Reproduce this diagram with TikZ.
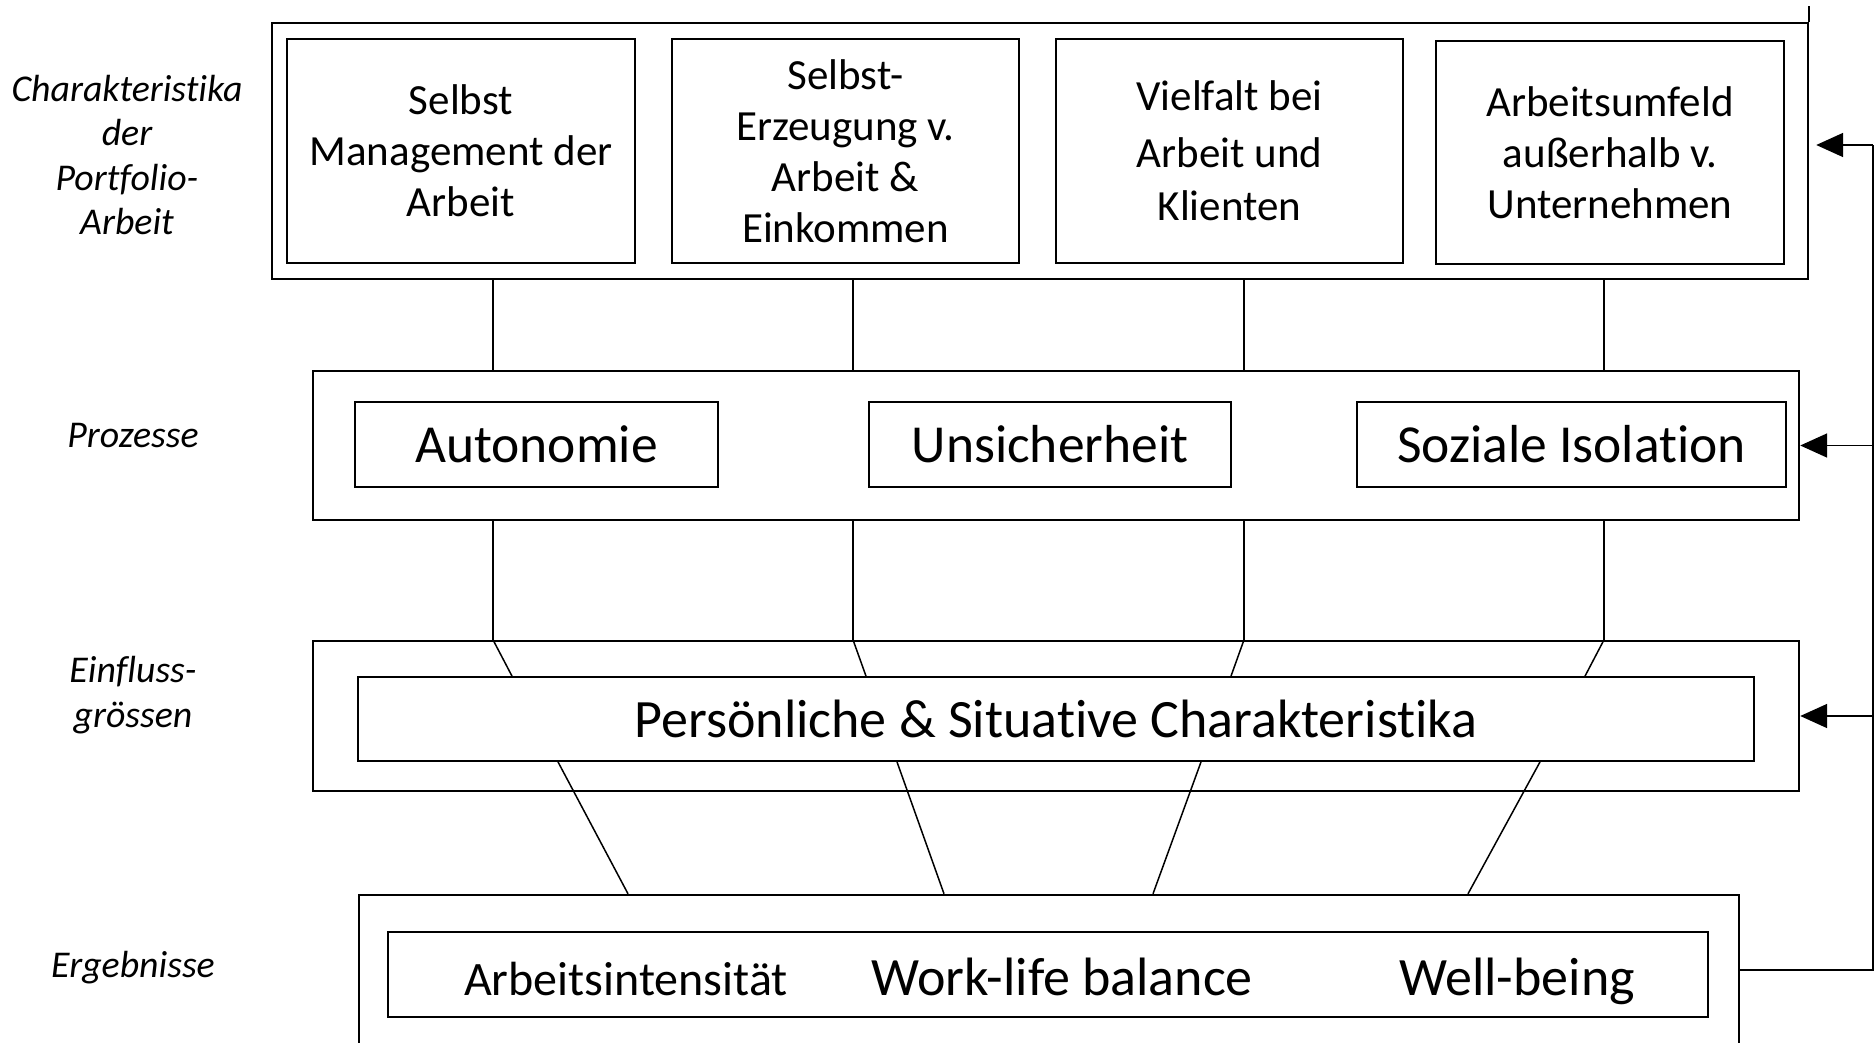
\documentclass[tikz,border=0pt]{standalone}
\usepackage{fontspec}
\setmainfont[Ligatures={NoCommon}]{Carlito}
\usetikzlibrary{arrows.meta,calc}
\begin{document}
\begin{tikzpicture}[x=1pt,y=-1pt,
  outer/.style={draw,line width=2.4pt,rectangle,inner sep=0pt},
  inbox/.style={draw,line width=1.8pt,rectangle,inner sep=0pt,align=center},
  conn/.style={line width=1.5pt},
  lbl/.style={font=\fontsize{37.8}{44.5}\selectfont\itshape,align=center,inner sep=0pt},
  topfont/.style={font=\fontsize{43}{51}\selectfont},
  procfont/.style={font=\fontsize{53.5}{60}\selectfont},
  resfont/.style={font=\fontsize{54}{60}\selectfont,anchor=base},
  fb/.style={line width=1.8pt},
  tip/.style={-{Triangle[length=27pt,width=24pt]}}]
\path[use as bounding box,clip] (0,0) rectangle (1876,1043);

% left labels
\node[lbl] (l1) at (127,155) {Charakteristika\\der\\Portfolio-\\Arbeit};
\node[lbl] (l2) at (133,436) {Prozesse};
\node[lbl] (l3) at (133,695) {Einfluss-\\grössen};
\node[lbl] (l4) at (133,968) {Ergebnisse};

% top level
\node[outer,minimum width=1536pt,minimum height=256pt] (top) at (1040,151) {};
\node[inbox,topfont,minimum width=348pt,minimum height=224pt] (t1) at (461,151) {Selbst\\Management der\\Arbeit};
\node[inbox,topfont,minimum width=347pt,minimum height=224pt] (t2) at (845.5,151) {Selbst-\\Erzeugung v.\\Arbeit \&\\Einkommen};
\node[inbox,topfont,minimum width=347pt,minimum height=224pt] (t3) at (1229.5,151) {Vielfalt bei\\[6pt]Arbeit und\\[2pt]Klienten};
\node[inbox,topfont,minimum width=348pt,minimum height=223pt] (t4) at (1610,152.5) {Arbeitsumfeld\\außerhalb v.\\Unternehmen};
\draw[line width=2pt] (top.north east) -- ++(0,-16);

% processes
\node[outer,minimum width=1486pt,minimum height=149pt] (proc) at (1056,445.5) {};
\node[inbox,procfont,minimum width=363pt,minimum height=85pt] (p1) at (536.5,444.5) {Autonomie};
\node[inbox,procfont,minimum width=362pt,minimum height=85pt] (p2) at (1050,444.5) {Unsicherheit};
\node[inbox,procfont,minimum width=429pt,minimum height=85pt] (p3) at (1571.5,444.5) {Soziale Isolation};

% influences
\node[outer,minimum width=1486pt,minimum height=150pt] (einf) at (1056,716) {};
\node[inbox,font=\fontsize{54}{60}\selectfont,minimum width=1396pt,minimum height=84pt] (pers) at (1056,719) {Persönliche \& Situative Charakteristika};

% results
\node[outer,minimum width=1380pt,minimum height=165pt] (erg) at (1049,977.5) {};
\node[inbox,minimum width=1320pt,minimum height=85pt] (ergi) at (1048,974.5) {};
\node[resfont,font=\fontsize{48}{56}\selectfont] (r1) at (626,995) {Arbeitsintensität};
\node[resfont] (r2) at (1062,995) {Work-life balance};
\node[resfont] (r3) at (1517,995) {Well-being};

% connectors
\coordinate (c1) at (493,0);
\coordinate (c2) at (853,0);
\coordinate (c3) at (1244,0);
\coordinate (c4) at (1604,0);
\foreach \c in {c1,c2,c3,c4}{
  \draw[conn] (top.south -| \c) -- (proc.north -| \c);
  \draw[conn] (proc.south -| \c) -- (einf.north -| \c);
}
\draw[conn] (einf.north -| c1) -- ($(pers.north)+(-544,0)$);
\draw[conn] (einf.north -| c2) -- ($(pers.north)+(-190,0)$);
\draw[conn] (einf.north -| c3) -- ($(pers.north)+(175,0)$);
\draw[conn] (einf.north -| c4) -- ($(pers.north)+(529,0)$);
\draw[conn] ($(pers.south)+(-498,0)$) -- ($(erg.north)+(-421,0)$);
\draw[conn] ($(pers.south)+(-159,0)$) -- ($(erg.north)+(-105,0)$);
\draw[conn] ($(pers.south)+(145,0)$) -- ($(erg.north)+(104,0)$);
\draw[conn] ($(pers.south)+(484,0)$) -- ($(erg.north)+(419,0)$);

% feedback
\coordinate (fbB) at (1873,970);
\coordinate (fbT) at (1873,145);
\draw[fb] (erg.east |- fbB) -- (fbB) -- (fbT);
\draw[fb,tip] (fbT) -- ($(top.east |- fbT)+(7,0)$);
\draw[fb,tip] (fbT |- proc.east) -- (proc.east);
\draw[fb,tip] (fbT |- einf.east) -- (einf.east);
\end{tikzpicture}
\end{document}
